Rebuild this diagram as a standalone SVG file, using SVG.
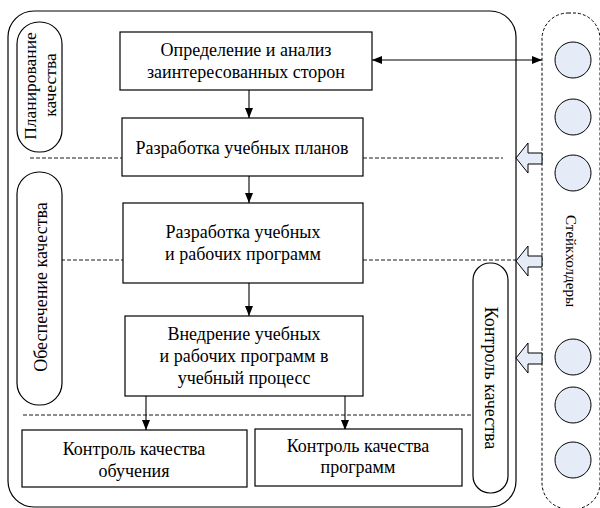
<svg xmlns="http://www.w3.org/2000/svg" width="600" height="508" viewBox="0 0 600 508">
<style>
.t{font-family:"Liberation Serif","Times New Roman",serif;font-size:18px;fill:#000;text-anchor:middle}
.box{fill:#fff;stroke:#000;stroke-width:1.2}
.pill{fill:#fff;stroke:#000;stroke-width:1.2}
.dash{fill:none;stroke:#000;stroke-width:0.9;stroke-dasharray:4,2}
.ln{fill:none;stroke:#000;stroke-width:1.1}
.circ{fill:#e6ecf7;stroke:#000;stroke-width:1}
.barr{fill:#e6ecf7;stroke:#000;stroke-width:1}
</style>
<defs>
<marker id="ah" viewBox="0 0 10 10" refX="10" refY="5" markerWidth="10" markerHeight="10" markerUnits="userSpaceOnUse" orient="auto-start-reverse">
<path d="M0,1 L10,5 L0,9 Z" fill="#000"/>
</marker>
</defs>
<rect x="0" y="0" width="600" height="508" fill="#fff"/>
<g id="outer"><rect x="8" y="11" width="508" height="496" rx="26" fill="none" stroke="#000" stroke-width="1.2"/></g>
<g id="stakeholders">
<rect x="542" y="13" width="58" height="496" rx="26" fill="none" stroke="#000" stroke-width="1" stroke-dasharray="3,2"/>
<circle class="circ" cx="573" cy="60" r="18"/>
<circle class="circ" cx="573" cy="117" r="18"/>
<circle class="circ" cx="573" cy="173" r="18"/>
<circle class="circ" cx="573" cy="357" r="18"/>
<circle class="circ" cx="573" cy="405" r="18"/>
<circle class="circ" cx="573" cy="460" r="18"/>
<text class="t" style="font-size:15px" transform="translate(566,261) rotate(90)">Стейкхолдеры</text>
</g>
<g id="connectors">
<line class="dash" x1="30" y1="158" x2="122" y2="158"/>
<line class="dash" x1="363" y1="158" x2="503" y2="158"/>
<line class="dash" x1="61" y1="260" x2="123" y2="260"/>
<line class="dash" x1="363" y1="260" x2="516" y2="260"/>
<line class="dash" x1="23" y1="415" x2="473" y2="415"/>
<line class="ln" x1="249" y1="90" x2="249" y2="118" marker-end="url(#ah)"/>
<line class="ln" x1="249" y1="176" x2="249" y2="203" marker-end="url(#ah)"/>
<line class="ln" x1="249" y1="283" x2="249" y2="316" marker-end="url(#ah)"/>
<line class="ln" x1="146" y1="396" x2="146" y2="430" marker-end="url(#ah)"/>
<line class="ln" x1="345" y1="396" x2="345" y2="430" marker-end="url(#ah)"/>
<line class="ln" x1="372" y1="60" x2="542" y2="60" marker-start="url(#ah)" marker-end="url(#ah)"/>
<path class="barr" d="M516,158 L528,143 L528,153 L542,153 L542,164 L528,164 L528,173 Z"/>
<path class="barr" d="M516,261 L528,246 L528,256 L542,256 L542,267 L528,267 L528,276 Z"/>
<path class="barr" d="M516,358 L528,343 L528,353 L542,353 L542,364 L528,364 L528,373 Z"/>
</g>
<g id="plan">
<rect class="pill" x="17" y="22" width="45" height="130" rx="22"/>
<text class="t" style="font-size:17.5px" transform="translate(36,86) rotate(-90)">Планирование</text>
<text class="t" style="font-size:17.5px" transform="translate(56,85) rotate(-90)">качества</text>
</g>
<g id="ensure">
<rect class="pill" x="17" y="172" width="45" height="233" rx="22"/>
<text class="t" transform="translate(47,287) rotate(-90)">Обеспечение качества</text>
</g>
<g id="control">
<rect class="pill" x="473" y="263" width="35" height="230" rx="17"/>
<text class="t" transform="translate(485,378) rotate(90)">Контроль качества</text>
</g>
<g id="n1">
<rect class="box" x="120" y="32" width="252" height="58"/>
<text class="t" x="246" y="56">Определение и анализ</text>
<text class="t" x="246" y="78">заинтересованных сторон</text>
</g>
<g id="n2">
<rect class="box" x="122" y="118" width="241" height="58"/>
<text class="t" x="242" y="154">Разработка учебных планов</text>
</g>
<g id="n3">
<rect class="box" x="123" y="203" width="240" height="80"/>
<text class="t" x="243" y="238">Разработка учебных</text>
<text class="t" x="243" y="260">и рабочих программ</text>
</g>
<g id="n4">
<rect class="box" x="125" y="316" width="238" height="80"/>
<text class="t" x="244" y="340">Внедрение учебных</text>
<text class="t" x="244" y="362">и рабочих программ в</text>
<text class="t" x="244" y="384">учебный процесс</text>
</g>
<g id="n5">
<rect class="box" x="22" y="430" width="225" height="57"/>
<text class="t" x="134" y="455">Контроль качества</text>
<text class="t" x="134" y="477">обучения</text>
</g>
<g id="n6">
<rect class="box" x="255" y="429" width="207" height="57"/>
<text class="t" x="358" y="452">Контроль качества</text>
<text class="t" x="358" y="473">программ</text>
</g>
</svg>
